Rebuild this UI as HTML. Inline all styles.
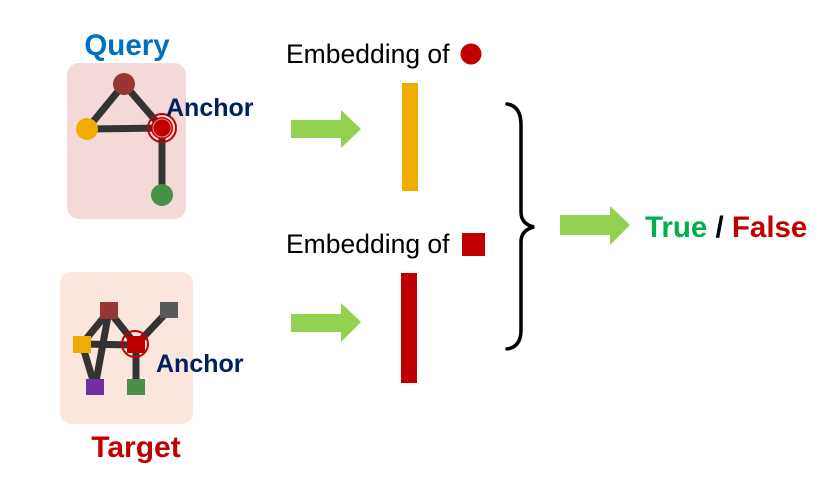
<!DOCTYPE html>
<html><head><meta charset="utf-8"><style>html,body{margin:0;padding:0;background:#fff;}svg{display:block}</style></head>
<body>
<svg width="836" height="478" viewBox="0 0 836 478" xmlns="http://www.w3.org/2000/svg" font-family="Liberation Sans, sans-serif">
<!-- Query -->
<text x="127" y="55" font-size="29.5" font-weight="bold" fill="#0070c0" text-anchor="middle">Query</text>
<rect x="67" y="63" width="119" height="156" rx="12" fill="#f4d9d9"/>
<g stroke="#333" stroke-width="7" stroke-linecap="round">
<line x1="124" y1="84" x2="87" y2="129"/><line x1="124" y1="84" x2="162" y2="128"/>
<line x1="87" y1="129" x2="162" y2="128"/><line x1="162" y1="128" x2="162" y2="195"/>
</g>
<circle cx="124" cy="84" r="11" fill="#953735"/>
<circle cx="87" cy="129" r="11" fill="#f0ad00"/>
<circle cx="162" cy="195" r="11" fill="#4a9048"/>
<circle cx="162" cy="128" r="11" fill="#c00000"/>
<circle cx="162" cy="128" r="14" fill="none" stroke="#c00000" stroke-width="2"/>
<circle cx="162" cy="128" r="9" fill="none" stroke="#e88" stroke-width="1"/>
<text x="166" y="116" font-size="25" font-weight="bold" fill="#002060">Anchor</text>
<!-- Target -->
<rect x="60" y="272" width="133" height="152" rx="12" fill="#fae6dc"/>
<g stroke="#333" stroke-width="7" stroke-linecap="round">
<line x1="109" y1="311" x2="82" y2="344"/><line x1="109" y1="311" x2="95" y2="387"/>
<line x1="109" y1="311" x2="136" y2="345"/><line x1="82" y1="344" x2="136" y2="345"/>
<line x1="82" y1="344" x2="95" y2="387"/><line x1="136" y1="345" x2="169" y2="310"/>
<line x1="136" y1="345" x2="136" y2="387"/>
</g>
<rect x="100" y="302" width="18" height="17" fill="#953735"/>
<rect x="160" y="302" width="18" height="16" fill="#595959"/>
<rect x="73" y="336" width="18" height="17" fill="#f0ad00"/>
<rect x="86" y="379" width="18" height="16" fill="#7030a0"/>
<rect x="127" y="379" width="18" height="16" fill="#4a9048"/>
<rect x="127" y="336" width="18" height="17" fill="#c00000"/>
<circle cx="135" cy="344" r="13" fill="none" stroke="#c00000" stroke-width="2"/>
<text x="156" y="372" font-size="25" font-weight="bold" fill="#002060">Anchor</text>
<text x="136" y="457" font-size="30" font-weight="bold" fill="#c00000" text-anchor="middle">Target</text>
<!-- arrows -->
<polygon points="291,120 341,120 341,110 361,129 341,148 341,138 291,138" fill="#92d050"/>
<polygon points="291,314 341,314 341,303 361,322 341,342 341,332 291,332" fill="#92d050"/>
<polygon points="560,215 610,215 610,206 630,225 610,245 610,235 560,235" fill="#92d050"/>
<!-- embeddings -->
<text x="286" y="63" font-size="26.5" fill="#000">Embedding of</text>
<circle cx="471" cy="54" r="10.5" fill="#c00000"/>
<rect x="402" y="83" width="16" height="108" fill="#f0ad00"/>
<text x="286" y="253" font-size="26.5" fill="#000">Embedding of</text>
<rect x="462" y="233" width="23" height="23" fill="#c00000"/>
<rect x="401" y="273" width="16" height="110" fill="#c00000"/>
<!-- brace -->
<path d="M507,104 Q521,106 521,125 L521,212 Q521,224 534,227 Q521,230 521,242 L521,330 Q521,347 507,349" fill="none" stroke="#000" stroke-width="3.5" stroke-linecap="round"/>
<text x="645" y="237" font-size="29.5" font-weight="bold"><tspan fill="#00b050">True</tspan><tspan fill="#000"> / </tspan><tspan fill="#c00000">False</tspan></text>
</svg>
</body></html>
